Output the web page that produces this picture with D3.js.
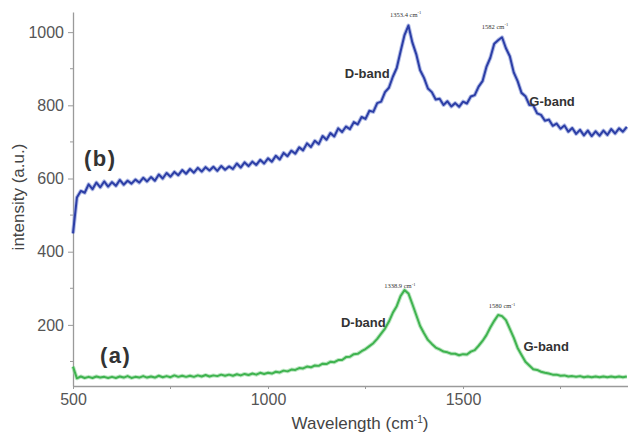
<!DOCTYPE html>
<html>
<head>
<meta charset="utf-8">
<script src="https://cdn.jsdelivr.net/npm/d3@7"></script>
<style>
  body { margin: 0; background: #fff; }
  svg { display: block; font-family: "Liberation Sans", Arial, sans-serif; }
</style>
</head>
<body>
<svg id="chart" width="628" height="434"></svg>
<script>
// --- data (wavenumber step 10) ---
const wavenumbers = [
  500,510,520,530,540,550,560,570,580,590,
  600,610,620,630,640,650,660,670,680,690,
  700,710,720,730,740,750,760,770,780,790,
  800,810,820,830,840,850,860,870,880,890,
  900,910,920,930,940,950,960,970,980,990,
  1000,1010,1020,1030,1040,1050,1060,1070,1080,1090,
  1100,1110,1120,1130,1140,1150,1160,1170,1180,1190,
  1200,1210,1220,1230,1240,1250,1260,1270,1280,1290,
  1300,1310,1320,1330,1340,1350,1360,1370,1380,1390,
  1400,1410,1420,1430,1440,1450,1460,1470,1480,1490,
  1500,1510,1520,1530,1540,1550,1560,1570,1580,1590,
  1600,1610,1620,1630,1640,1650,1660,1670,1680,1690,
  1700,1710,1720,1730,1740,1750,1760,1770,1780,1790,
  1800,1810,1820,1830,1840,1850,1860,1870,1880,1890,
  1900,1910,1920
];

// (b) upper spectrum
const seriesB = [
  450,548,566,561,584,571,589,576,592,578,
  590,580,596,583,594,586,597,589,602,592,
  604,594,611,600,615,605,618,609,623,613,
  626,616,629,619,631,622,632,621,634,624,
  633,626,641,630,644,634,646,637,651,641,
  655,646,662,652,670,661,676,668,685,677,
  696,686,703,694,716,706,724,715,737,727,
  742,735,754,748,768,763,785,782,806,810,
  836,848,878,902,948,992,1018,972,940,896,
  875,846,836,816,818,801,811,797,806,796,
  810,805,824,828,851,866,905,930,968,978,
  986,956,934,890,866,834,825,801,800,778,
  774,758,761,744,750,736,745,728,738,722,
  733,718,731,716,729,717,731,719,735,723,
  737,728,741
];

// (a) lower spectrum
const seriesA = [
  86,54,59,55,58,55,59,56,58,55,
  58,55,59,56,60,55,58,56,60,56,
  59,56,61,57,60,57,62,58,61,58,
  61,58,62,59,63,59,62,60,64,61,
  64,61,65,62,66,63,67,64,69,66,
  69,67,72,70,75,73,78,77,82,81,
  86,84,89,88,94,93,99,98,104,104,
  112,113,120,121,128,134,142,150,162,176,
  190,209,233,251,279,295,286,257,227,197,
  177,159,148,138,133,127,125,121,121,117,
  120,119,127,131,143,156,172,193,211,227,
  224,213,189,165,137,118,99,89,79,77,
  72,69,67,64,64,61,62,59,60,58,
  60,57,59,57,59,57,59,57,59,57,
  59,57,59
];

const yTicks = [200, 400, 600, 800, 1000];
const xTicks = [500, 1000, 1500];

// annotations: [text, wavenumber, intensity]
const bandLabelsB = [["D-band", 1197, 875], ["G-band", 1670, 797]];
const bandLabelsA = [["D-band", 1187, 195], ["G-band", 1655, 130]];
const peakLabelsB = [["1353.4 cm", 1353, 1042], ["1582 cm", 1582, 1009]];
const peakLabelsA = [["1338.9 cm", 1338, 300], ["1580 cm", 1600, 245]];

// --- setup ---
const svg = d3.select("#chart");
const x = d3.scaleLinear().domain([500, 1923]).range([73, 628]);
const y = d3.scaleLinear().domain([33, 1055]).range([386, 12]);

// axes (light grey, like the scan)
const axisColor = "#9a9a9a";
const yAxis = svg.append("g")
  .attr("transform", `translate(${x(500)},0)`)
  .call(d3.axisLeft(y).tickValues(yTicks).tickFormat(d3.format("d"))
    .tickSize(5).tickSizeOuter(0).tickPadding(4));
yAxis.select(".domain").attr("stroke", axisColor).attr("stroke-width", 1.3);
yAxis.selectAll(".tick line").attr("stroke", axisColor);
yAxis.selectAll("text").style("font-size", "16px").attr("fill", "#555");

// minor y ticks
svg.append("g").selectAll("line")
  .data([100, 300, 500, 700, 900])
  .enter().append("line")
    .attr("x1", x(500) - 3).attr("x2", x(500))
    .attr("y1", d => y(d)).attr("y2", d => y(d))
    .attr("stroke", axisColor);

const xAxis = svg.append("g")
  .attr("transform", `translate(0,${y(33)})`)
  .call(d3.axisBottom(x).tickValues(xTicks).tickFormat(d3.format("d"))
    .tickSize(3).tickSizeOuter(0).tickPadding(5));
xAxis.select(".domain").attr("stroke", axisColor).attr("stroke-width", 1.3);
xAxis.selectAll(".tick line").attr("stroke", axisColor);
xAxis.selectAll("text").style("font-size", "16px").attr("fill", "#555");

// minor x ticks
svg.append("g").selectAll("line")
  .data([750, 1250, 1750])
  .enter().append("line")
    .attr("x1", d => x(d)).attr("x2", d => x(d))
    .attr("y1", y(33)).attr("y2", y(33) + 3)
    .attr("stroke", axisColor);

// axis titles
const xt = svg.append("text")
  .attr("x", 360).attr("y", 429)
  .attr("text-anchor", "middle")
  .style("font-size", "17px").attr("fill", "#444");
xt.append("tspan").text("Wavelength (cm");
xt.append("tspan").attr("dy", -6).style("font-size", "10px").text("-1");
xt.append("tspan").attr("dy", 6).text(")");

svg.append("text")
  .attr("transform", "translate(24,197) rotate(-90)")
  .attr("text-anchor", "middle")
  .style("font-size", "17px").attr("fill", "#444")
  .text("intensity (a.u.)");

// --- spectra ---
const line = d3.line()
  .x((d, i) => x(wavenumbers[i]))
  .y(d => y(d));

// soft halo under each trace to mimic the noisy band
[[seriesA, "#8fd69a", "#3fb34f"], [seriesB, "#7f8fd6", "#2c3ea6"]].forEach(([s, halo, col]) => {
  svg.append("path")
    .datum(s)
    .attr("fill", "none")
    .attr("stroke", halo)
    .attr("stroke-width", 4)
    .attr("stroke-opacity", 0.6)
    .attr("stroke-linejoin", "round")
    .attr("d", line);
  svg.append("path")
    .datum(s)
    .attr("fill", "none")
    .attr("stroke", col)
    .attr("stroke-width", 2)
    .attr("stroke-linejoin", "round")
    .attr("d", line);
});

// --- labels ---
svg.append("text").attr("x", 84).attr("y", 166)
  .style("font-size", "22px").style("font-weight", "bold")
  .style("letter-spacing", "1.5px").attr("fill", "#333").text("(b)");
svg.append("text").attr("x", 100).attr("y", 363)
  .style("font-size", "22px").style("font-weight", "bold")
  .style("letter-spacing", "1.5px").attr("fill", "#333").text("(a)");

svg.append("g").selectAll("text")
  .data(bandLabelsB.concat(bandLabelsA))
  .enter().append("text")
    .attr("x", d => x(d[1]))
    .attr("y", d => y(d[2]))
    .style("font-size", "13px").style("font-weight", "bold")
    .attr("fill", "#333")
    .text(d => d[0]);

const peaks = svg.append("g").selectAll("text")
  .data(peakLabelsB.concat(peakLabelsA))
  .enter().append("text")
    .attr("x", d => x(d[1]))
    .attr("y", d => y(d[2]))
    .attr("text-anchor", "middle")
    .style("font-family", "'Liberation Serif', serif")
    .style("font-size", "6.5px")
    .attr("fill", "#333");
peaks.append("tspan").text(d => d[0]);
peaks.append("tspan").attr("dy", -2.5).style("font-size", "4.5px").text("-1");
</script>
</body>
</html>
